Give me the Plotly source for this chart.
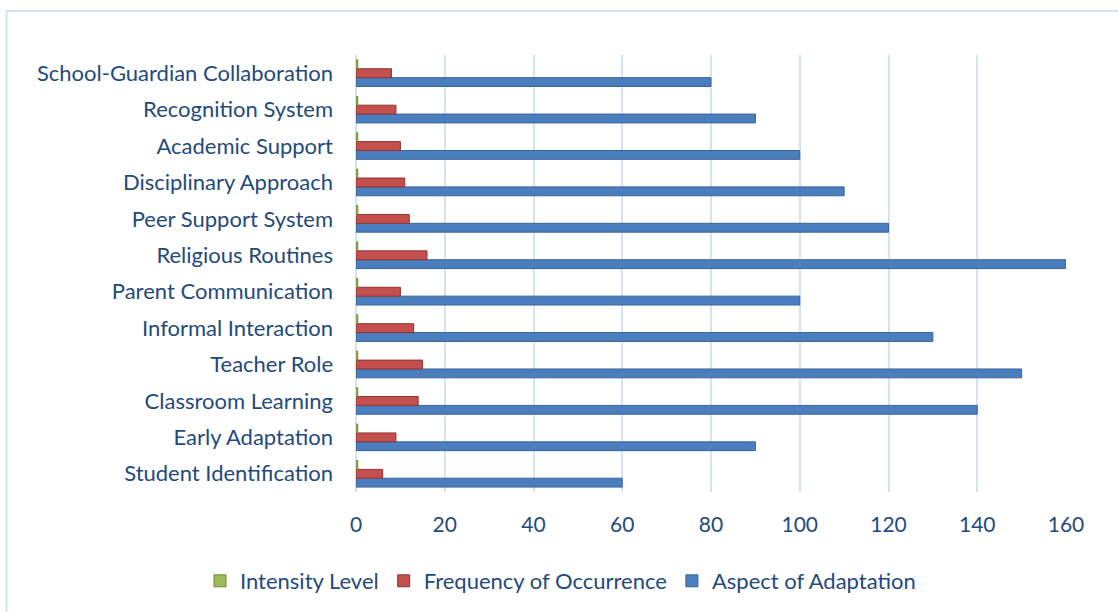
import plotly.graph_objects as go

categories = [
    "Student Identification", "Early Adaptation", "Classroom Learning", "Teacher Role",
    "Informal Interaction", "Parent Communication", "Religious Routines", "Peer Support System",
    "Disciplinary Approach", "Academic Support", "Recognition System", "School-Guardian Collaboration",
]
aspect = [60, 90, 140, 150, 130, 100, 160, 120, 110, 100, 90, 80]
frequency = [6, 9, 14, 15, 13, 10, 16, 12, 11, 10, 9, 8]
intensity = [0.4, 0.4, 0.4, 0.4, 0.4, 0.4, 0.4, 0.4, 0.4, 0.4, 0.4, 0.4]
x_ticks = [0, 20, 40, 60, 80, 100, 120, 140, 160]

TXT = "#244a7c"
FONT = "Lato"

fig = go.Figure()
fig.add_trace(go.Bar(y=categories, x=aspect, orientation="h", name="Aspect of Adaptation",
                     marker=dict(color="#4a7ebf", line=dict(color="#3a6499", width=1))))
fig.add_trace(go.Bar(y=categories, x=frequency, orientation="h", name="Frequency of Occurrence",
                     marker=dict(color="#c4504d", line=dict(color="#8f3432", width=1))))
fig.add_trace(go.Bar(y=categories, x=intensity, orientation="h", name="Intensity Level",
                     marker=dict(color="#9bbb59", line=dict(color="#6d8a3a", width=1))))

L, R, T, B = 356, 1118 - 1066, 55, 612 - 492
W = 1118 - L - R
H = 612 - T - B

fig.update_layout(
    width=1118, height=612,
    margin=dict(l=L, r=R, t=T, b=B, autoexpand=False),
    barmode="group", bargap=0.27, bargroupgap=0,
    paper_bgcolor="white", plot_bgcolor="white",
    font=dict(family=FONT, size=20, color=TXT),
    showlegend=True,
    legend=dict(orientation="h", xref="paper", x=(200 - L) / W, xanchor="left",
                yref="paper", y=(492 - 581) / H, yanchor="middle",
                traceorder="reversed", font=dict(size=22, color=TXT),
                itemwidth=30),
    xaxis=dict(range=[0, 160], tickvals=x_ticks, showgrid=True, gridcolor="#d6e2f3", gridwidth=2,
               zeroline=True, zerolinecolor="#d6e2f3", zerolinewidth=2, ticks="", ticklen=0,
               ticklabelstandoff=18, showline=False, tickfont=dict(size=21, color=TXT)),
    yaxis=dict(categoryorder="array", categoryarray=categories, showgrid=False, ticks="",
               ticklen=0, ticklabelstandoff=22, tickfont=dict(size=22, color=TXT), showline=False),
    shapes=[dict(type="rect", xref="paper", yref="paper",
                 x0=(6.5 - L) / W, x1=(1130 - L) / W,
                 y0=(612 - B - 620) / H, y1=(612 - B - 11) / H,
                 line=dict(color="#d6e2f3", width=2), fillcolor="rgba(0,0,0,0)", layer="below")],
)

fig.write_html("out.html")
